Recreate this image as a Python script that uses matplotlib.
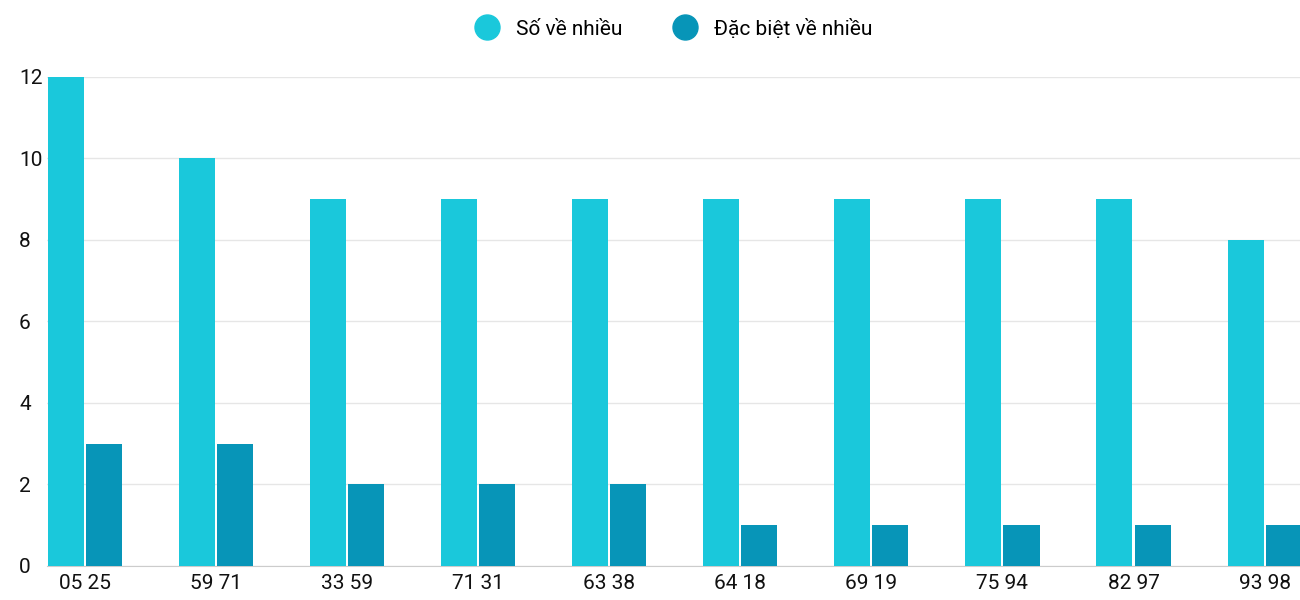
import numpy as np
import matplotlib.pyplot as plt
from matplotlib.lines import Line2D

plt.rcParams['font.family'] = ['Roboto', 'DejaVu Sans']

# data
pairs = ['05 25', '59 71', '33 59', '71 31', '63 38', '64 18', '69 19', '75 94', '82 97', '93 98']
so_ve_nhieu = [12, 10, 9, 9, 9, 9, 9, 9, 9, 8]
dac_biet = [3, 3, 2, 2, 2, 1, 1, 1, 1, 1]

light = '#1ac8db'
dark = '#0795b8'

fig = plt.figure(figsize=(13, 6), dpi=100)
ax = fig.add_axes([0.036, 0.057, 0.964, 0.815])

x = np.arange(len(pairs))
w = 0.275
ax.bar(x - w / 2 - 0.008, so_ve_nhieu, width=w, color=light, zorder=3)
ax.bar(x + w / 2 + 0.008, dac_biet, width=w, color=dark, zorder=3)

ax.set_xlim(-0.29, 9.27)
ax.set_ylim(0, 12)
ax.set_yticks(range(0, 13, 2))
ax.set_xticks(x)
ax.set_xticklabels(pairs)
ax.tick_params(axis='both', length=0, labelsize=15, colors='#111111')
ax.tick_params(axis='y', pad=20)
ax.tick_params(axis='x', pad=6)
ax.grid(axis='y', color='#e6e6e6', linewidth=1, zorder=0)
for s in ['top', 'right', 'left']:
    ax.spines[s].set_visible(False)
ax.spines['bottom'].set_color('#cccccc')
for lbl in ax.get_yticklabels():
    lbl.set_horizontalalignment('left')

handles = [Line2D([], [], marker='o', linestyle='', markersize=18, color=light),
           Line2D([], [], marker='o', linestyle='', markersize=18, color=dark)]
fig.legend(handles, ['Số về nhiều', 'Đặc biệt về nhiều'], loc='upper center',
           bbox_to_anchor=(0.515, 1.0), ncol=2, frameon=False, fontsize=15,
           handletextpad=0.4, columnspacing=2.0)

fig.savefig('out.png')
